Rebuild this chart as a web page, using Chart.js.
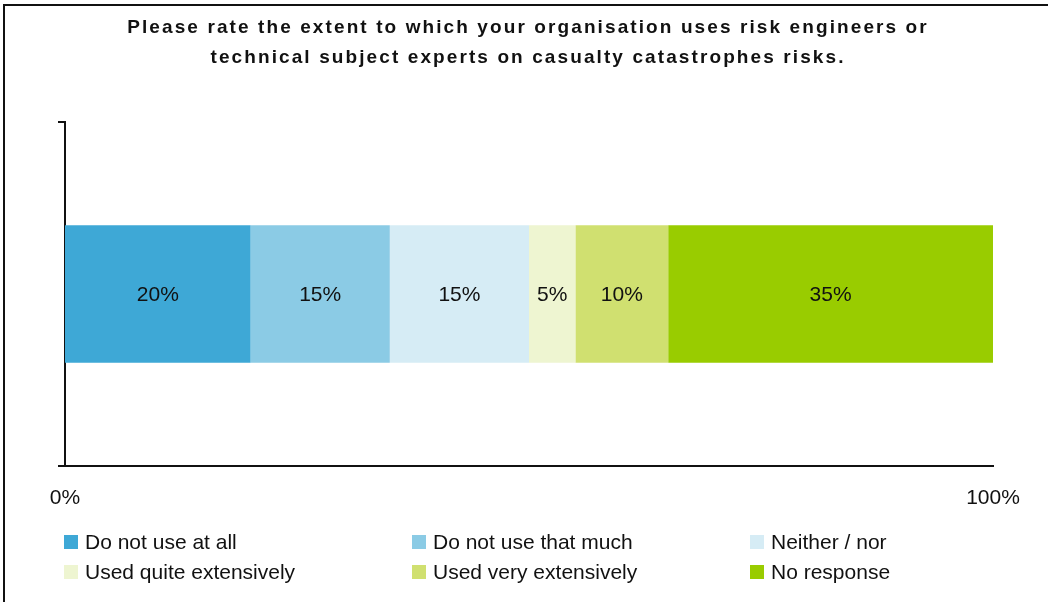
<!DOCTYPE html>
<html>
<head>
<meta charset="utf-8">
<script src="https://cdn.jsdelivr.net/npm/chart.js@4.4.1/dist/chart.umd.min.js"></script>
<style>
  html, body { margin: 0; padding: 0; background: #fff; }
  #frame {
    position: relative; width: 1048px; height: 602px; overflow: hidden;
    font-family: "Liberation Sans", Arial, sans-serif; color: #111;
  }
  #frame:before {
    content: ""; position: absolute; left: 3px; top: 4px; right: -10px; bottom: -10px;
    border-top: 2px solid #111; border-left: 2px solid #111;
  }
  #chart { position: absolute; left: 0; top: 0; }
  #title {
    position: absolute; left: 8px; top: 12px; width: 1040px; text-align: center;
    font-weight: bold; font-size: 19px; line-height: 30px; letter-spacing: 2.1px;
  }
  #legend { position: absolute; left: 0; top: 0; width: 1048px; height: 602px; pointer-events: none; }
  .item { position: absolute; display: flex; align-items: center; font-size: 21px; line-height: 24px; white-space: nowrap; }
  .swatch { width: 14px; height: 14px; margin-right: 7px; }
</style>
</head>
<body>
<div id="frame">
  <canvas id="chart" width="1048" height="542"></canvas>
  <div id="title"></div>
  <div id="legend"></div>
</div>
<script>
// Survey question and answer breakdown (percent of respondents)
const titleLines = [
  'Please rate the extent to which your organisation uses risk engineers or',
  'technical subject experts on casualty catastrophes risks.'
];
const categories = [''];
const answerLabels = [
  'Do not use at all',
  'Do not use that much',
  'Neither / nor',
  'Used quite extensively',
  'Used very extensively',
  'No response'
];
const answerValues = [20, 15, 15, 5, 10, 35];
const answerColors = ['#3ea8d6', '#8bcbe5', '#d6ecf5', '#eef5d1', '#d0e070', '#99cc00'];
const axisTicks = [0, 100];

const FONT = '"Liberation Sans", Arial, sans-serif';

const datasets = answerLabels.map((label, i) => ({
  label: label,
  data: [answerValues[i]],
  backgroundColor: answerColors[i],
  borderWidth: 0,
  categoryPercentage: 1,
  barPercentage: 0.4
}));

// Writes each segment's percentage in the middle of its bar
const segmentLabels = {
  id: 'segmentLabels',
  afterDatasetsDraw(chart) {
    const ctx = chart.ctx;
    ctx.save();
    ctx.font = '21px ' + FONT;
    ctx.fillStyle = '#111';
    ctx.textAlign = 'center';
    ctx.textBaseline = 'middle';
    chart.data.datasets.forEach((ds, i) => {
      chart.getDatasetMeta(i).data.forEach((bar, j) => {
        const cx = (bar.x + bar.base) / 2;
        ctx.fillText(ds.data[j] + '%', cx, bar.y + 1);
      });
    });
    ctx.restore();
  }
};

new Chart(document.getElementById('chart'), {
  type: 'bar',
  data: { labels: categories, datasets: datasets },
  options: {
    indexAxis: 'y',
    responsive: false,
    animation: false,
    layout: { padding: { left: 58, right: 55, top: 122, bottom: 11 } },
    plugins: {
      legend: { display: false },
      tooltip: { enabled: false },
      title: { display: false }
    },
    scales: {
      x: {
        stacked: true,
        min: 0,
        max: 100,
        afterBuildTicks(scale) { scale.ticks = axisTicks.map(v => ({ value: v })); },
        grid: { display: false, drawTicks: false },
        border: { display: true, color: '#111', width: 2 },
        ticks: {
          color: '#111',
          padding: 20,
          maxRotation: 0,
          font: { family: FONT, size: 21, lineHeight: 1.2 },
          callback: v => v + '%'
        }
      },
      y: {
        stacked: true,
        grid: { display: true, drawOnChartArea: false, drawTicks: true, tickLength: 7, color: '#111', lineWidth: 2, offset: true },
        border: { display: true, color: '#111', width: 2 },
        ticks: { display: false }
      }
    }
  },
  plugins: [segmentLabels]
});

// Title, two centred lines
const title = document.getElementById('title');
titleLines.forEach(line => {
  const d = document.createElement('div');
  d.textContent = line;
  title.appendChild(d);
});

// Legend: three columns, two rows
const legend = document.getElementById('legend');
const colX = [64, 412, 750];
const rowY = [530, 560];
answerLabels.forEach((label, i) => {
  const item = document.createElement('div');
  item.className = 'item';
  item.style.left = colX[i % 3] + 'px';
  item.style.top = rowY[Math.floor(i / 3)] + 'px';
  const sw = document.createElement('span');
  sw.className = 'swatch';
  sw.style.background = answerColors[i];
  const tx = document.createElement('span');
  tx.textContent = label;
  item.appendChild(sw);
  item.appendChild(tx);
  legend.appendChild(item);
});
</script>
</body>
</html>
